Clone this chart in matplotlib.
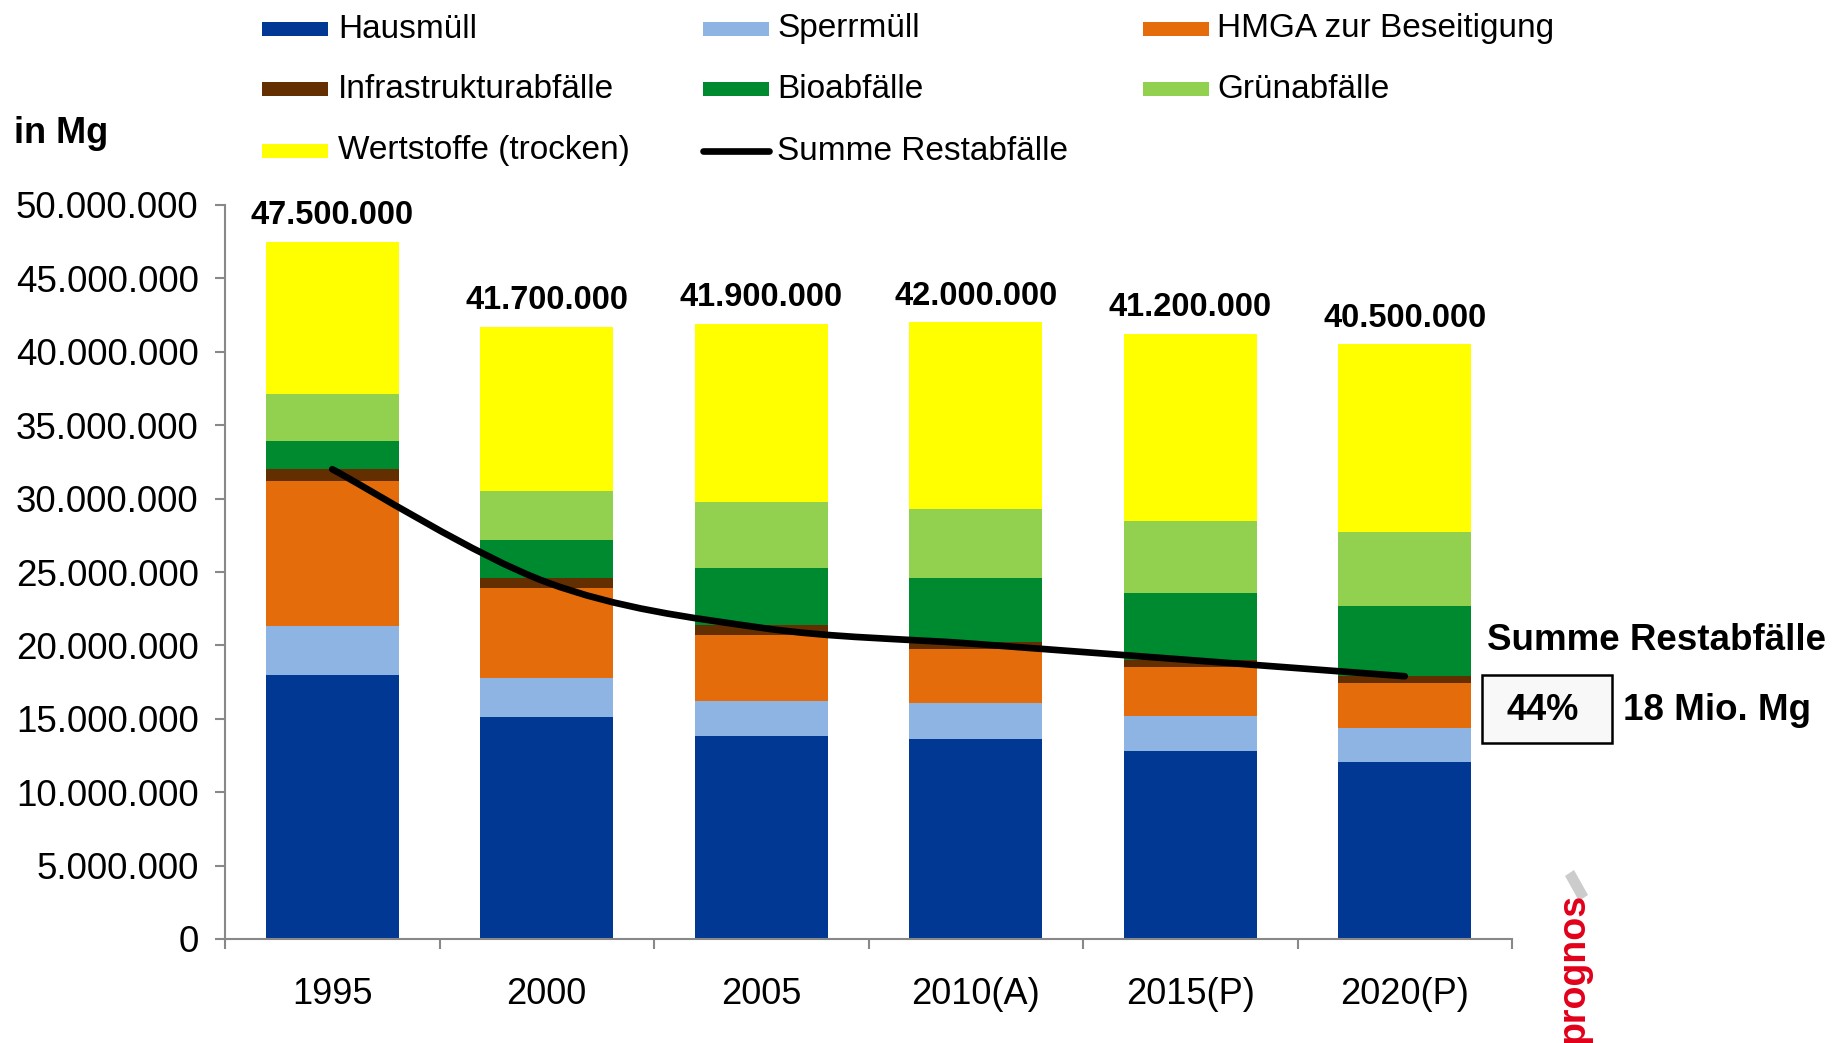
import matplotlib
matplotlib.use("Agg")
import matplotlib.pyplot as plt
from matplotlib.patches import Rectangle, Polygon, PathPatch
from matplotlib.lines import Line2D
from matplotlib.path import Path
from matplotlib.ticker import FixedLocator, FuncFormatter
import numpy as np

plt.rcParams['font.family'] = ['Liberation Sans', 'DejaVu Sans']

# data (Mio. Mg)
years = ['1995', '2000', '2005', '2010(A)', '2015(P)', '2020(P)']
hausmuell = [18.0, 15.1, 13.8, 13.65, 12.8, 12.05]
sperrmuell = [3.3, 2.7, 2.4, 2.4, 2.4, 2.3]
hmga = [9.9, 6.1, 4.5, 3.7, 3.3, 3.1]
infrastruktur = [0.85, 0.7, 0.7, 0.5, 0.5, 0.45]
bioabfaelle = [1.9, 2.6, 3.9, 4.35, 4.55, 4.75]
gruenabfaelle = [3.2, 3.3, 4.5, 4.7, 4.9, 5.1]
wertstoffe = [10.35, 11.2, 12.1, 12.7, 12.75, 12.75]
summe_rest = [32.0, 24.3, 21.2, 20.1, 19.0, 17.9]
totals = [47500000, 41700000, 41900000, 42000000, 41200000, 40500000]

series = [
    ('Hausmüll', hausmuell, '#003893'),
    ('Sperrmüll', sperrmuell, '#8EB4E3'),
    ('HMGA zur Beseitigung', hmga, '#E46C0A'),
    ('Infrastrukturabfälle', infrastruktur, '#632F00'),
    ('Bioabfälle', bioabfaelle, '#008A30'),
    ('Grünabfälle', gruenabfaelle, '#92D050'),
    ('Wertstoffe (trocken)', wertstoffe, '#FFFF00'),
]

W, H = 1847, 1043


def fx(px):
    return px / W


def fy(py):
    return 1 - py / H


def de_fmt(v, pos=None):
    return f"{int(round(v)):,}".replace(',', '.')


fig = plt.figure(figsize=(W / 100, H / 100), dpi=100)
ax = fig.add_axes([fx(225), fy(939), fx(1512) - fx(225), fy(205) - fy(939)])

x = np.arange(len(years))
bottom = np.zeros(len(years))
for name, vals, color in series:
    v = np.array(vals) * 1e6
    ax.bar(x, v, width=0.62, bottom=bottom, color=color, edgecolor='none', zorder=2)
    bottom += v

# smoothed line for Summe Restabfälle (Catmull-Rom as cubic Bezier)
pts = np.column_stack([x, np.array(summe_rest) * 1e6])
ext = np.vstack([pts[0], pts, pts[-1]])
verts = [tuple(pts[0])]
codes = [Path.MOVETO]
for i in range(len(pts) - 1):
    p0, p1, p2, p3 = ext[i], ext[i + 1], ext[i + 2], ext[i + 3]
    c1 = p1 + (p2 - p0) / 6
    c2 = p2 - (p3 - p1) / 6
    verts += [tuple(c1), tuple(c2), tuple(p2)]
    codes += [Path.CURVE4] * 3
ax.add_patch(PathPatch(Path(verts, codes), facecolor='none', edgecolor='black',
                       lw=4.8, capstyle='round', zorder=4))

# totals above bars
for xi, t in zip(x, totals):
    ax.annotate(de_fmt(t), (xi, t), xytext=(0, 19), textcoords='offset points',
                ha='center', va='center', fontsize=23.5, fontweight='bold')

ax.set_xlim(-0.5, len(years) - 0.5)
ax.set_ylim(0, 50e6)
ax.yaxis.set_major_locator(FixedLocator(np.arange(0, 50e6 + 1, 5e6)))
ax.yaxis.set_major_formatter(FuncFormatter(de_fmt))
ax.xaxis.set_major_locator(FixedLocator(np.arange(-0.5, len(years), 1.0)))
ax.xaxis.set_major_formatter(FuncFormatter(lambda v, p: ''))
ax.xaxis.set_minor_locator(FixedLocator(x))
ax.xaxis.set_minor_formatter(FuncFormatter(lambda v, p: years[int(round(v))]))
ax.tick_params(axis='x', which='major', direction='out', length=7, width=1.5, color='#888888')
ax.tick_params(axis='x', which='minor', length=0, pad=27, labelsize=26)
ax.tick_params(axis='y', direction='out', length=7, width=1.5, color='#888888', pad=12, labelsize=26.5)
for s in ['top', 'right']:
    ax.spines[s].set_visible(False)
for s in ['left', 'bottom']:
    ax.spines[s].set_color('#888888')
    ax.spines[s].set_linewidth(1.5)

# legend, laid out row by row like the original
legend_items = [(n, c) for n, _, c in series] + [('Summe Restabfälle', None)]
col_patch = [262, 703, 1143]
col_text = [338, 777, 1217]
row_y = [29, 89, 151]
for i, (name, color) in enumerate(legend_items):
    r, c = divmod(i, 3)
    yc = row_y[r]
    if color is None:
        fig.add_artist(Line2D([fx(col_patch[c]), fx(col_patch[c] + 66)], [fy(yc), fy(yc)],
                              color='black', lw=4.8, solid_capstyle='round'))
    else:
        fig.add_artist(Rectangle((fx(col_patch[c]), fy(yc + 7)), fx(66), 14 / H,
                                 facecolor=color, edgecolor='none'))
    fig.text(fx(col_text[c]), fy(yc), name, ha='left', va='center', fontsize=24)

fig.text(fx(14), fy(134), 'in Mg', ha='left', va='center', fontsize=26, fontweight='bold')

# annotation on the right
fig.text(fx(1487), fy(641), 'Summe Restabfälle', ha='left', va='center',
         fontsize=26.5, fontweight='bold')
fig.add_artist(Rectangle((fx(1482), fy(743)), fx(1612) - fx(1482), (743 - 675) / H,
                         facecolor='#f8f8f8', edgecolor='black', lw=1.8))
fig.text(fx(1543), fy(711), '44%', ha='center', va='center', fontsize=26, fontweight='bold')
fig.text(fx(1623), fy(711), '18 Mio. Mg', ha='left', va='center', fontsize=26.5, fontweight='bold')

# prognos logo
fig.text(fx(1574), fy(1043), 'prognos', rotation=90, ha='center', va='bottom',
         fontsize=27, fontweight='bold', color='#E2001A')
fig.add_artist(Polygon([(fx(1565), fy(876)), (fx(1574), fy(870)), (fx(1588), fy(895)),
                        (fx(1579), fy(901))], closed=True, facecolor='#cccccc', edgecolor='none'))

fig.savefig('out.png', dpi=100)
